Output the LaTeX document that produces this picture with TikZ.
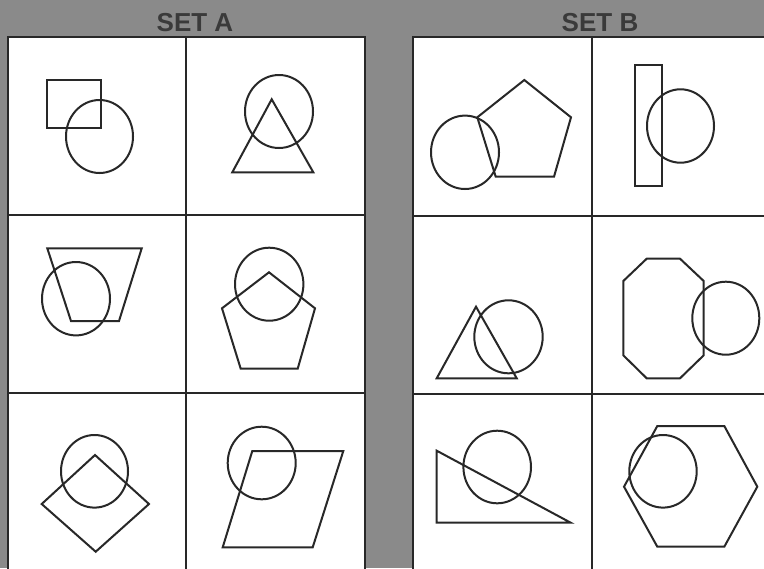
\documentclass[tikz,border=0pt]{standalone}
\usepackage{fontspec}
\setmainfont{Liberation Sans}
\usepackage{tikz}
\usetikzlibrary{calc}
\definecolor{bggray}{RGB}{138,138,138}
\definecolor{inkgray}{RGB}{58,58,58}
\definecolor{linegray}{RGB}{40,40,40}

\begin{document}
\begin{tikzpicture}[x=0.5pt, y=-0.5pt,
    shapeline/.style={draw=linegray, line width=1pt, line join=miter},
    gridline/.style={draw=linegray, line width=1.1pt},
    settitle/.style={text=inkgray, font=\bfseries\fontsize{13pt}{15pt}\selectfont}]
    \useasboundingbox (0,0) rectangle (764,568);
    \clip (0,0) rectangle (764,568);
    \fill[bggray] (0,0) rectangle (764,568);
    % titles
    \node[settitle] (titleA) at (195,23) {SET A};
    \node[settitle] (titleB) at (600,23) {SET B};
    % grid A
    \coordinate (A) at (8,37);
    \coordinate (Aend) at (365,575);
    \filldraw[fill=white, gridline] (A) rectangle (Aend);
    \draw[gridline] (186,37) -- (186,575);
    \draw[gridline] (8,215) -- (365,215);
    \draw[gridline] (8,393) -- (365,393);
    % grid B
    \coordinate (B) at (413,37);
    \coordinate (Bend) at (772,575);
    \filldraw[fill=white, gridline] (B) rectangle (Bend);
    \draw[gridline] (592,37) -- (592,575);
    \draw[gridline] (413,216) -- (772,216);
    \draw[gridline] (413,394) -- (772,394);

    % SET A, row 1
    \draw[shapeline] (47,80) rectangle (101,128);
    \draw[shapeline] (99.5,136.5) ellipse [x radius=33.5, y radius=36.5];
    \draw[shapeline] (279,111.5) ellipse [x radius=34, y radius=36.5];
    \draw[shapeline] (271.7,99.3) -- (313.3,172.3) -- (232.3,172.3) -- cycle;
    % SET A, row 2
    \draw[shapeline] (47.3,248.3) -- (141.7,248.3) -- (119,321) -- (71,321) -- cycle;
    \draw[shapeline] (76,298.7) ellipse [x radius=34, y radius=36.7];
    \draw[shapeline] (269.2,284.2) ellipse [x radius=34.2, y radius=36.5];
    \draw[shapeline] (269,272.3) -- (315,308.3) -- (297.7,368.7) -- (240.7,368.7) -- (222,308.3) -- cycle;
    % SET A, row 3
    \draw[shapeline] (94.5,471.3) ellipse [x radius=33.5, y radius=36.3];
    \draw[shapeline] (95,455) -- (149,504) -- (95.7,551.7) -- (41.7,504) -- cycle;
    \draw[shapeline] (261.7,463) ellipse [x radius=34, y radius=36.3];
    \draw[shapeline] (252.3,451) -- (343.3,451) -- (312.7,547.3) -- (222.7,547.3) -- cycle;

    % SET B, row 1
    \draw[shapeline] (465,152.3) ellipse [x radius=34, y radius=36.7];
    \draw[shapeline] (524.3,80) -- (571,117.3) -- (554,176.7) -- (495.7,176.7) -- (477.3,117.3) -- cycle;
    \draw[shapeline] (635.3,65.3) rectangle (662,186);
    \draw[shapeline] (680.5,126) ellipse [x radius=33.5, y radius=36.7];
    % SET B, row 2
    \draw[shapeline] (476,306.7) -- (516.7,378.3) -- (436.7,378.3) -- cycle;
    \draw[shapeline] (508.5,336.8) ellipse [x radius=34.2, y radius=36.5];
    \draw[shapeline] (646.7,258.7) -- (680,258.7) -- (703.7,281) -- (703.7,355.3) -- (680,378.3) -- (646.7,378.3) -- (623.3,355.3) -- (623.3,281) -- cycle;
    \draw[shapeline] (725.8,318.2) ellipse [x radius=33.5, y radius=36.5];
    % SET B, row 3
    \draw[shapeline] (436.7,450.7) -- (570.7,522.7) -- (436.7,522.7) -- cycle;
    \draw[shapeline] (497.2,467) ellipse [x radius=33.8, y radius=36.3];
    \draw[shapeline] (657.3,426) -- (724.3,426) -- (757.3,486.7) -- (724.3,546.7) -- (657.3,546.7) -- (624,486.7) -- cycle;
    \draw[shapeline] (663,471.3) ellipse [x radius=33.7, y radius=36.3];
\end{tikzpicture}
\end{document}
